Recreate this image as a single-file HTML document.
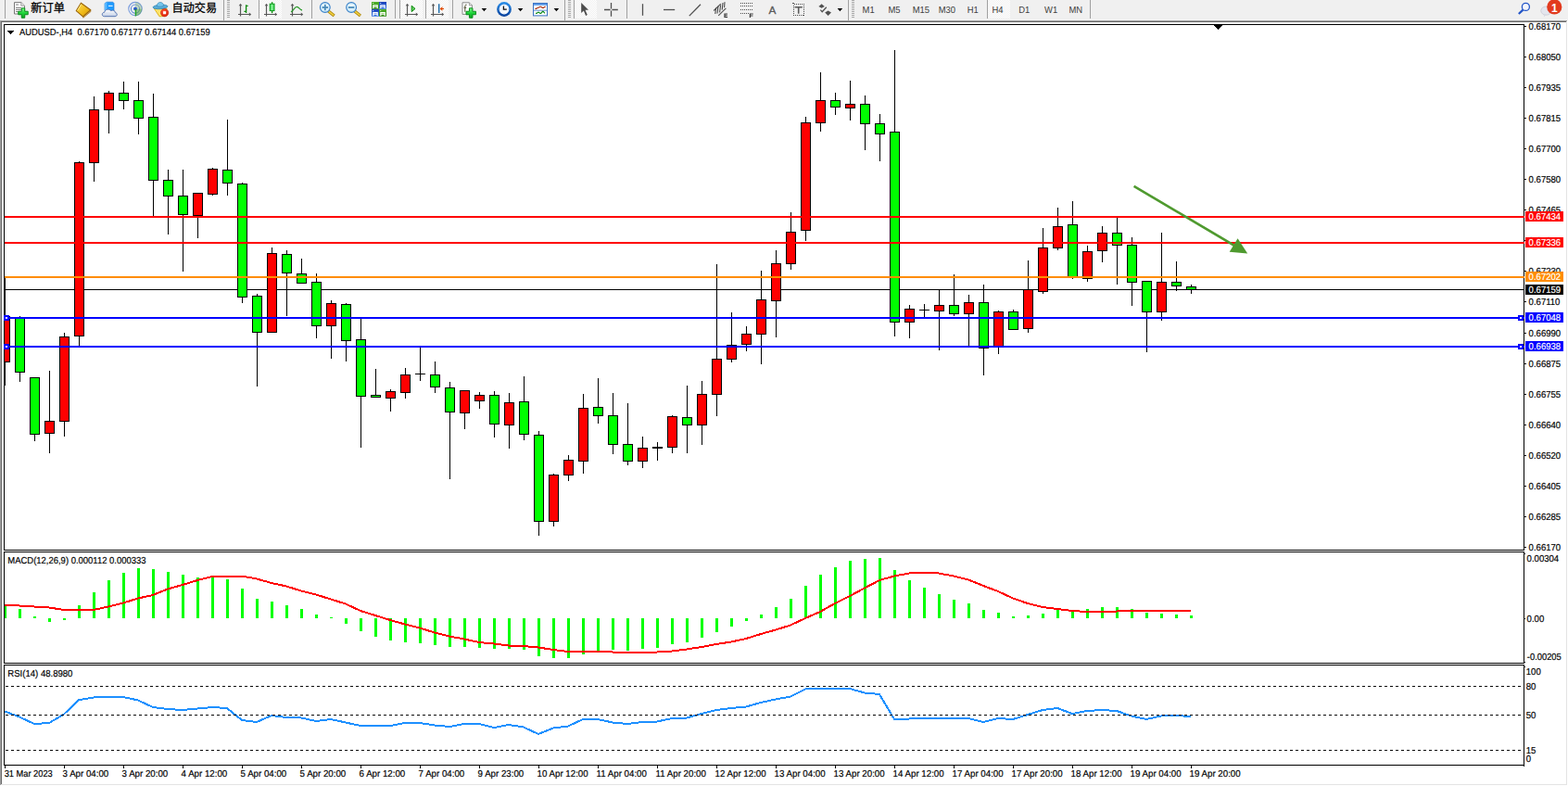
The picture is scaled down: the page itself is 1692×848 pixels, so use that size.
<!DOCTYPE html>
<html><head><meta charset="utf-8"><title>AUDUSD H4</title>
<style>
html,body{margin:0;padding:0}
body{width:1692px;height:848px;overflow:hidden;background:#fff;position:relative;font-family:"Liberation Sans",sans-serif}
svg{position:absolute;left:0;top:0}
</style></head><body>
<div style="position:absolute;left:0;top:0;width:1692px;height:22px;background:#f0f0f0"></div>
<div style="position:absolute;left:0;top:21px;width:1692px;height:1px;background:#f3f3f3"></div>
<div style="position:absolute;left:0;top:22px;width:1691px;height:1px;background:#a0a0a0"></div>
<div style="position:absolute;left:1px;top:23px;width:1689px;height:1px;background:#696969"></div>
<div style="position:absolute;left:0;top:22px;width:1px;height:825px;background:#a0a0a0"></div>
<div style="position:absolute;left:1px;top:23px;width:1px;height:823px;background:#696969"></div>
<div style="position:absolute;left:1690px;top:23px;width:1px;height:824px;background:#e3e3e3"></div>
<div style="position:absolute;left:1px;top:846px;width:1690px;height:1px;background:#e3e3e3"></div>
<svg width="1692" height="848" viewBox="0 0 1692 848" shape-rendering="crispEdges">
<clipPath id="cp"><rect x="5" y="27" width="1639" height="566"/></clipPath><rect x="5" y="312" width="1639" height="1" fill="#000"/><g id="candles" clip-path="url(#cp)"><rect x="5" y="298" width="1" height="118" fill="#000"/>
<rect x="0" y="341" width="11" height="50" fill="#000"/>
<rect x="1" y="342" width="9" height="48" fill="#ff0000"/>
<rect x="21" y="341" width="1" height="71" fill="#000"/>
<rect x="16" y="342" width="11" height="60" fill="#000"/>
<rect x="17" y="343" width="9" height="58" fill="#00ff00"/>
<rect x="37" y="407" width="1" height="69" fill="#000"/>
<rect x="32" y="407" width="11" height="62" fill="#000"/>
<rect x="33" y="408" width="9" height="60" fill="#00ff00"/>
<rect x="53" y="400" width="1" height="89" fill="#000"/>
<rect x="48" y="454" width="11" height="14" fill="#000"/>
<rect x="49" y="455" width="9" height="12" fill="#ff0000"/>
<rect x="69" y="359" width="1" height="112" fill="#000"/>
<rect x="64" y="363" width="11" height="92" fill="#000"/>
<rect x="65" y="364" width="9" height="90" fill="#ff0000"/>
<rect x="85" y="174" width="1" height="201" fill="#000"/>
<rect x="80" y="175" width="11" height="188" fill="#000"/>
<rect x="81" y="176" width="9" height="186" fill="#ff0000"/>
<rect x="101" y="104" width="1" height="92" fill="#000"/>
<rect x="96" y="118" width="11" height="58" fill="#000"/>
<rect x="97" y="119" width="9" height="56" fill="#ff0000"/>
<rect x="117" y="98" width="1" height="46" fill="#000"/>
<rect x="112" y="100" width="11" height="19" fill="#000"/>
<rect x="113" y="101" width="9" height="17" fill="#ff0000"/>
<rect x="133" y="88" width="1" height="30" fill="#000"/>
<rect x="128" y="100" width="11" height="9" fill="#000"/>
<rect x="129" y="101" width="9" height="7" fill="#00ff00"/>
<rect x="149" y="88" width="1" height="57" fill="#000"/>
<rect x="144" y="108" width="11" height="20" fill="#000"/>
<rect x="145" y="109" width="9" height="18" fill="#00ff00"/>
<rect x="165" y="101" width="1" height="133" fill="#000"/>
<rect x="160" y="126" width="11" height="69" fill="#000"/>
<rect x="161" y="127" width="9" height="67" fill="#00ff00"/>
<rect x="181" y="183" width="1" height="70" fill="#000"/>
<rect x="176" y="194" width="11" height="18" fill="#000"/>
<rect x="177" y="195" width="9" height="16" fill="#00ff00"/>
<rect x="197" y="183" width="1" height="110" fill="#000"/>
<rect x="192" y="211" width="11" height="21" fill="#000"/>
<rect x="193" y="212" width="9" height="19" fill="#00ff00"/>
<rect x="213" y="208" width="1" height="49" fill="#000"/>
<rect x="208" y="208" width="11" height="25" fill="#000"/>
<rect x="209" y="209" width="9" height="23" fill="#ff0000"/>
<rect x="229" y="181" width="1" height="30" fill="#000"/>
<rect x="224" y="182" width="11" height="28" fill="#000"/>
<rect x="225" y="183" width="9" height="26" fill="#ff0000"/>
<rect x="245" y="129" width="1" height="82" fill="#000"/>
<rect x="240" y="183" width="11" height="15" fill="#000"/>
<rect x="241" y="184" width="9" height="13" fill="#00ff00"/>
<rect x="261" y="197" width="1" height="130" fill="#000"/>
<rect x="256" y="198" width="11" height="123" fill="#000"/>
<rect x="257" y="199" width="9" height="121" fill="#00ff00"/>
<rect x="277" y="317" width="1" height="100" fill="#000"/>
<rect x="272" y="319" width="11" height="40" fill="#000"/>
<rect x="273" y="320" width="9" height="38" fill="#00ff00"/>
<rect x="293" y="267" width="1" height="92" fill="#000"/>
<rect x="288" y="273" width="11" height="86" fill="#000"/>
<rect x="289" y="274" width="9" height="84" fill="#ff0000"/>
<rect x="309" y="270" width="1" height="71" fill="#000"/>
<rect x="304" y="274" width="11" height="21" fill="#000"/>
<rect x="305" y="275" width="9" height="19" fill="#00ff00"/>
<rect x="325" y="279" width="1" height="27" fill="#000"/>
<rect x="320" y="295" width="11" height="11" fill="#000"/>
<rect x="321" y="296" width="9" height="9" fill="#00ff00"/>
<rect x="341" y="295" width="1" height="70" fill="#000"/>
<rect x="336" y="304" width="11" height="48" fill="#000"/>
<rect x="337" y="305" width="9" height="46" fill="#00ff00"/>
<rect x="357" y="324" width="1" height="63" fill="#000"/>
<rect x="352" y="327" width="11" height="25" fill="#000"/>
<rect x="353" y="328" width="9" height="23" fill="#ff0000"/>
<rect x="373" y="327" width="1" height="63" fill="#000"/>
<rect x="368" y="328" width="11" height="40" fill="#000"/>
<rect x="369" y="329" width="9" height="38" fill="#00ff00"/>
<rect x="389" y="344" width="1" height="139" fill="#000"/>
<rect x="384" y="366" width="11" height="62" fill="#000"/>
<rect x="385" y="367" width="9" height="60" fill="#00ff00"/>
<rect x="405" y="398" width="1" height="31" fill="#000"/>
<rect x="400" y="426" width="11" height="3" fill="#000"/>
<rect x="401" y="427" width="9" height="1" fill="#00ff00"/>
<rect x="421" y="420" width="1" height="24" fill="#000"/>
<rect x="416" y="422" width="11" height="8" fill="#000"/>
<rect x="417" y="423" width="9" height="6" fill="#ff0000"/>
<rect x="437" y="397" width="1" height="33" fill="#000"/>
<rect x="432" y="404" width="11" height="20" fill="#000"/>
<rect x="433" y="405" width="9" height="18" fill="#ff0000"/>
<rect x="453" y="375" width="1" height="36" fill="#000"/>
<rect x="448" y="403" width="11" height="1" fill="#000"/>
<rect x="469" y="390" width="1" height="34" fill="#000"/>
<rect x="464" y="404" width="11" height="14" fill="#000"/>
<rect x="465" y="405" width="9" height="12" fill="#00ff00"/>
<rect x="485" y="412" width="1" height="105" fill="#000"/>
<rect x="480" y="418" width="11" height="27" fill="#000"/>
<rect x="481" y="419" width="9" height="25" fill="#00ff00"/>
<rect x="501" y="421" width="1" height="42" fill="#000"/>
<rect x="496" y="421" width="11" height="25" fill="#000"/>
<rect x="497" y="422" width="9" height="23" fill="#ff0000"/>
<rect x="517" y="423" width="1" height="18" fill="#000"/>
<rect x="512" y="426" width="11" height="7" fill="#000"/>
<rect x="513" y="427" width="9" height="5" fill="#ff0000"/>
<rect x="533" y="422" width="1" height="50" fill="#000"/>
<rect x="528" y="426" width="11" height="32" fill="#000"/>
<rect x="529" y="427" width="9" height="30" fill="#00ff00"/>
<rect x="549" y="424" width="1" height="60" fill="#000"/>
<rect x="544" y="434" width="11" height="25" fill="#000"/>
<rect x="545" y="435" width="9" height="23" fill="#ff0000"/>
<rect x="565" y="406" width="1" height="69" fill="#000"/>
<rect x="560" y="433" width="11" height="36" fill="#000"/>
<rect x="561" y="434" width="9" height="34" fill="#00ff00"/>
<rect x="581" y="465" width="1" height="113" fill="#000"/>
<rect x="576" y="469" width="11" height="94" fill="#000"/>
<rect x="577" y="470" width="9" height="92" fill="#00ff00"/>
<rect x="597" y="511" width="1" height="57" fill="#000"/>
<rect x="592" y="512" width="11" height="51" fill="#000"/>
<rect x="593" y="513" width="9" height="49" fill="#ff0000"/>
<rect x="613" y="491" width="1" height="28" fill="#000"/>
<rect x="608" y="496" width="11" height="17" fill="#000"/>
<rect x="609" y="497" width="9" height="15" fill="#ff0000"/>
<rect x="629" y="425" width="1" height="86" fill="#000"/>
<rect x="624" y="440" width="11" height="58" fill="#000"/>
<rect x="625" y="441" width="9" height="56" fill="#ff0000"/>
<rect x="645" y="408" width="1" height="49" fill="#000"/>
<rect x="640" y="439" width="11" height="10" fill="#000"/>
<rect x="641" y="440" width="9" height="8" fill="#00ff00"/>
<rect x="661" y="424" width="1" height="66" fill="#000"/>
<rect x="656" y="448" width="11" height="32" fill="#000"/>
<rect x="657" y="449" width="9" height="30" fill="#00ff00"/>
<rect x="677" y="435" width="1" height="67" fill="#000"/>
<rect x="672" y="479" width="11" height="19" fill="#000"/>
<rect x="673" y="480" width="9" height="17" fill="#00ff00"/>
<rect x="693" y="471" width="1" height="34" fill="#000"/>
<rect x="688" y="483" width="11" height="15" fill="#000"/>
<rect x="689" y="484" width="9" height="13" fill="#ff0000"/>
<rect x="709" y="477" width="1" height="20" fill="#000"/>
<rect x="704" y="482" width="11" height="2" fill="#000"/>
<rect x="725" y="448" width="1" height="41" fill="#000"/>
<rect x="720" y="449" width="11" height="34" fill="#000"/>
<rect x="721" y="450" width="9" height="32" fill="#ff0000"/>
<rect x="741" y="416" width="1" height="73" fill="#000"/>
<rect x="736" y="450" width="11" height="9" fill="#000"/>
<rect x="737" y="451" width="9" height="7" fill="#00ff00"/>
<rect x="757" y="411" width="1" height="69" fill="#000"/>
<rect x="752" y="425" width="11" height="34" fill="#000"/>
<rect x="753" y="426" width="9" height="32" fill="#ff0000"/>
<rect x="773" y="285" width="1" height="164" fill="#000"/>
<rect x="768" y="387" width="11" height="39" fill="#000"/>
<rect x="769" y="388" width="9" height="37" fill="#ff0000"/>
<rect x="789" y="337" width="1" height="54" fill="#000"/>
<rect x="784" y="372" width="11" height="16" fill="#000"/>
<rect x="785" y="373" width="9" height="14" fill="#ff0000"/>
<rect x="805" y="352" width="1" height="27" fill="#000"/>
<rect x="800" y="360" width="11" height="12" fill="#000"/>
<rect x="801" y="361" width="9" height="10" fill="#ff0000"/>
<rect x="821" y="292" width="1" height="101" fill="#000"/>
<rect x="816" y="323" width="11" height="38" fill="#000"/>
<rect x="817" y="324" width="9" height="36" fill="#ff0000"/>
<rect x="837" y="270" width="1" height="94" fill="#000"/>
<rect x="832" y="284" width="11" height="41" fill="#000"/>
<rect x="833" y="285" width="9" height="39" fill="#ff0000"/>
<rect x="853" y="229" width="1" height="62" fill="#000"/>
<rect x="848" y="250" width="11" height="35" fill="#000"/>
<rect x="849" y="251" width="9" height="33" fill="#ff0000"/>
<rect x="869" y="126" width="1" height="134" fill="#000"/>
<rect x="864" y="132" width="11" height="117" fill="#000"/>
<rect x="865" y="133" width="9" height="115" fill="#ff0000"/>
<rect x="885" y="78" width="1" height="64" fill="#000"/>
<rect x="880" y="108" width="11" height="25" fill="#000"/>
<rect x="881" y="109" width="9" height="23" fill="#ff0000"/>
<rect x="901" y="100" width="1" height="24" fill="#000"/>
<rect x="896" y="108" width="11" height="8" fill="#000"/>
<rect x="897" y="109" width="9" height="6" fill="#00ff00"/>
<rect x="917" y="87" width="1" height="43" fill="#000"/>
<rect x="912" y="112" width="11" height="5" fill="#000"/>
<rect x="913" y="113" width="9" height="3" fill="#ff0000"/>
<rect x="933" y="103" width="1" height="59" fill="#000"/>
<rect x="928" y="112" width="11" height="22" fill="#000"/>
<rect x="929" y="113" width="9" height="20" fill="#00ff00"/>
<rect x="949" y="123" width="1" height="51" fill="#000"/>
<rect x="944" y="133" width="11" height="12" fill="#000"/>
<rect x="945" y="134" width="9" height="10" fill="#00ff00"/>
<rect x="965" y="54" width="1" height="309" fill="#000"/>
<rect x="960" y="142" width="11" height="206" fill="#000"/>
<rect x="961" y="143" width="9" height="204" fill="#00ff00"/>
<rect x="981" y="329" width="1" height="36" fill="#000"/>
<rect x="976" y="333" width="11" height="15" fill="#000"/>
<rect x="977" y="334" width="9" height="13" fill="#ff0000"/>
<rect x="997" y="328" width="1" height="14" fill="#000"/>
<rect x="992" y="334" width="11" height="1" fill="#000"/>
<rect x="1013" y="312" width="1" height="66" fill="#000"/>
<rect x="1008" y="329" width="11" height="7" fill="#000"/>
<rect x="1009" y="330" width="9" height="5" fill="#ff0000"/>
<rect x="1029" y="296" width="1" height="45" fill="#000"/>
<rect x="1024" y="329" width="11" height="10" fill="#000"/>
<rect x="1025" y="330" width="9" height="8" fill="#00ff00"/>
<rect x="1045" y="318" width="1" height="57" fill="#000"/>
<rect x="1040" y="326" width="11" height="13" fill="#000"/>
<rect x="1041" y="327" width="9" height="11" fill="#ff0000"/>
<rect x="1061" y="307" width="1" height="98" fill="#000"/>
<rect x="1056" y="326" width="11" height="50" fill="#000"/>
<rect x="1057" y="327" width="9" height="48" fill="#00ff00"/>
<rect x="1077" y="335" width="1" height="47" fill="#000"/>
<rect x="1072" y="336" width="11" height="39" fill="#000"/>
<rect x="1073" y="337" width="9" height="37" fill="#ff0000"/>
<rect x="1093" y="334" width="1" height="22" fill="#000"/>
<rect x="1088" y="336" width="11" height="20" fill="#000"/>
<rect x="1089" y="337" width="9" height="18" fill="#00ff00"/>
<rect x="1109" y="281" width="1" height="78" fill="#000"/>
<rect x="1104" y="312" width="11" height="43" fill="#000"/>
<rect x="1105" y="313" width="9" height="41" fill="#ff0000"/>
<rect x="1125" y="246" width="1" height="71" fill="#000"/>
<rect x="1120" y="267" width="11" height="48" fill="#000"/>
<rect x="1121" y="268" width="9" height="46" fill="#ff0000"/>
<rect x="1141" y="224" width="1" height="46" fill="#000"/>
<rect x="1136" y="244" width="11" height="24" fill="#000"/>
<rect x="1137" y="245" width="9" height="22" fill="#ff0000"/>
<rect x="1157" y="217" width="1" height="84" fill="#000"/>
<rect x="1152" y="242" width="11" height="57" fill="#000"/>
<rect x="1153" y="243" width="9" height="55" fill="#00ff00"/>
<rect x="1173" y="265" width="1" height="39" fill="#000"/>
<rect x="1168" y="271" width="11" height="30" fill="#000"/>
<rect x="1169" y="272" width="9" height="28" fill="#ff0000"/>
<rect x="1189" y="244" width="1" height="39" fill="#000"/>
<rect x="1184" y="251" width="11" height="20" fill="#000"/>
<rect x="1185" y="252" width="9" height="18" fill="#ff0000"/>
<rect x="1205" y="235" width="1" height="72" fill="#000"/>
<rect x="1200" y="251" width="11" height="14" fill="#000"/>
<rect x="1201" y="252" width="9" height="12" fill="#00ff00"/>
<rect x="1221" y="256" width="1" height="74" fill="#000"/>
<rect x="1216" y="264" width="11" height="41" fill="#000"/>
<rect x="1217" y="265" width="9" height="39" fill="#00ff00"/>
<rect x="1237" y="303" width="1" height="77" fill="#000"/>
<rect x="1232" y="303" width="11" height="34" fill="#000"/>
<rect x="1233" y="304" width="9" height="32" fill="#00ff00"/>
<rect x="1253" y="251" width="1" height="95" fill="#000"/>
<rect x="1248" y="304" width="11" height="33" fill="#000"/>
<rect x="1249" y="305" width="9" height="31" fill="#ff0000"/>
<rect x="1269" y="282" width="1" height="32" fill="#000"/>
<rect x="1264" y="304" width="11" height="5" fill="#000"/>
<rect x="1265" y="305" width="9" height="3" fill="#00ff00"/>
<rect x="1285" y="307" width="1" height="10" fill="#000"/>
<rect x="1280" y="309" width="11" height="4" fill="#000"/>
<rect x="1281" y="310" width="9" height="2" fill="#00ff00"/></g>
<g id="macd"><rect x="4" y="653" width="3" height="14" fill="#00ff00"/>
<rect x="20" y="657" width="3" height="10" fill="#00ff00"/>
<rect x="36" y="665" width="3" height="2" fill="#00ff00"/>
<rect x="52" y="667" width="3" height="4" fill="#00ff00"/>
<rect x="68" y="667" width="3" height="2" fill="#00ff00"/>
<rect x="84" y="653" width="3" height="14" fill="#00ff00"/>
<rect x="100" y="639" width="3" height="28" fill="#00ff00"/>
<rect x="116" y="626" width="3" height="41" fill="#00ff00"/>
<rect x="132" y="618" width="3" height="49" fill="#00ff00"/>
<rect x="148" y="613" width="3" height="54" fill="#00ff00"/>
<rect x="164" y="614" width="3" height="53" fill="#00ff00"/>
<rect x="180" y="617" width="3" height="50" fill="#00ff00"/>
<rect x="196" y="620" width="3" height="47" fill="#00ff00"/>
<rect x="212" y="623" width="3" height="44" fill="#00ff00"/>
<rect x="228" y="623" width="3" height="44" fill="#00ff00"/>
<rect x="244" y="625" width="3" height="42" fill="#00ff00"/>
<rect x="260" y="635" width="3" height="32" fill="#00ff00"/>
<rect x="276" y="646" width="3" height="21" fill="#00ff00"/>
<rect x="292" y="649" width="3" height="18" fill="#00ff00"/>
<rect x="308" y="653" width="3" height="14" fill="#00ff00"/>
<rect x="324" y="657" width="3" height="10" fill="#00ff00"/>
<rect x="340" y="663" width="3" height="4" fill="#00ff00"/>
<rect x="356" y="666" width="3" height="1" fill="#00ff00"/>
<rect x="372" y="667" width="3" height="6" fill="#00ff00"/>
<rect x="388" y="667" width="3" height="14" fill="#00ff00"/>
<rect x="404" y="667" width="3" height="20" fill="#00ff00"/>
<rect x="420" y="667" width="3" height="24" fill="#00ff00"/>
<rect x="436" y="667" width="3" height="26" fill="#00ff00"/>
<rect x="452" y="667" width="3" height="27" fill="#00ff00"/>
<rect x="468" y="667" width="3" height="29" fill="#00ff00"/>
<rect x="484" y="667" width="3" height="31" fill="#00ff00"/>
<rect x="500" y="667" width="3" height="31" fill="#00ff00"/>
<rect x="516" y="667" width="3" height="32" fill="#00ff00"/>
<rect x="532" y="667" width="3" height="33" fill="#00ff00"/>
<rect x="548" y="667" width="3" height="33" fill="#00ff00"/>
<rect x="564" y="667" width="3" height="34" fill="#00ff00"/>
<rect x="580" y="667" width="3" height="41" fill="#00ff00"/>
<rect x="596" y="667" width="3" height="43" fill="#00ff00"/>
<rect x="612" y="667" width="3" height="43" fill="#00ff00"/>
<rect x="628" y="667" width="3" height="39" fill="#00ff00"/>
<rect x="644" y="667" width="3" height="36" fill="#00ff00"/>
<rect x="660" y="667" width="3" height="34" fill="#00ff00"/>
<rect x="676" y="667" width="3" height="35" fill="#00ff00"/>
<rect x="692" y="667" width="3" height="33" fill="#00ff00"/>
<rect x="708" y="667" width="3" height="32" fill="#00ff00"/>
<rect x="724" y="667" width="3" height="28" fill="#00ff00"/>
<rect x="740" y="667" width="3" height="26" fill="#00ff00"/>
<rect x="756" y="667" width="3" height="21" fill="#00ff00"/>
<rect x="772" y="667" width="3" height="15" fill="#00ff00"/>
<rect x="788" y="667" width="3" height="9" fill="#00ff00"/>
<rect x="804" y="667" width="3" height="3" fill="#00ff00"/>
<rect x="820" y="663" width="3" height="4" fill="#00ff00"/>
<rect x="836" y="655" width="3" height="12" fill="#00ff00"/>
<rect x="852" y="646" width="3" height="21" fill="#00ff00"/>
<rect x="868" y="632" width="3" height="35" fill="#00ff00"/>
<rect x="884" y="620" width="3" height="47" fill="#00ff00"/>
<rect x="900" y="612" width="3" height="55" fill="#00ff00"/>
<rect x="916" y="605" width="3" height="62" fill="#00ff00"/>
<rect x="932" y="603" width="3" height="64" fill="#00ff00"/>
<rect x="948" y="602" width="3" height="65" fill="#00ff00"/>
<rect x="964" y="615" width="3" height="52" fill="#00ff00"/>
<rect x="980" y="626" width="3" height="41" fill="#00ff00"/>
<rect x="996" y="634" width="3" height="33" fill="#00ff00"/>
<rect x="1012" y="641" width="3" height="26" fill="#00ff00"/>
<rect x="1028" y="647" width="3" height="20" fill="#00ff00"/>
<rect x="1044" y="651" width="3" height="16" fill="#00ff00"/>
<rect x="1060" y="658" width="3" height="9" fill="#00ff00"/>
<rect x="1076" y="661" width="3" height="6" fill="#00ff00"/>
<rect x="1092" y="665" width="3" height="2" fill="#00ff00"/>
<rect x="1108" y="664" width="3" height="3" fill="#00ff00"/>
<rect x="1124" y="662" width="3" height="5" fill="#00ff00"/>
<rect x="1140" y="658" width="3" height="9" fill="#00ff00"/>
<rect x="1156" y="658" width="3" height="9" fill="#00ff00"/>
<rect x="1172" y="657" width="3" height="10" fill="#00ff00"/>
<rect x="1188" y="655" width="3" height="12" fill="#00ff00"/>
<rect x="1204" y="655" width="3" height="12" fill="#00ff00"/>
<rect x="1220" y="657" width="3" height="10" fill="#00ff00"/>
<rect x="1236" y="661" width="3" height="6" fill="#00ff00"/>
<rect x="1252" y="662" width="3" height="5" fill="#00ff00"/>
<rect x="1268" y="663" width="3" height="4" fill="#00ff00"/>
<rect x="1284" y="664" width="3" height="3" fill="#00ff00"/></g>
<polyline points="5,653.25 21,653.5 37,654.5 53,655.5 69,658.0 85,658.5 101,658.0 117,654.5 133,650.5 149,645.5 165,642.0 181,635.5 197,631.0 213,626.0 229,622.0 245,621.5 261,621.5 277,624.5 293,629.0 309,632.5 325,637.5 341,641.5 357,646.5 373,651.5 389,659.0 405,664.0 421,669.0 437,673.5 453,677.5 469,682.5 485,686.5 501,689.5 517,693.0 533,694.5 549,696.5 565,697.0 581,698.5 597,701.0 613,703.0 629,703.0 645,703.0 661,703.5 677,704.0 693,704.0 709,703.5 725,702.5 741,700.5 757,698.0 773,695.0 789,692.5 805,689.0 821,684.0 837,679.5 853,674.5 869,667.0 885,660.0 901,651.0 917,643.0 933,634.5 949,626.0 965,621.5 981,618.5 997,618.25 1013,618.5 1029,621.5 1045,625.5 1061,632.0 1077,638.0 1093,645.5 1109,651.0 1125,655.0 1141,657.0 1157,659.0 1173,660.0 1189,660.0 1205,659.5 1221,659.0 1237,659.0 1253,659.0 1269,659.0 1285,659.0" fill="none" stroke="#ff0000" stroke-width="2"/>
<polyline points="5,767.5 21,773.5 37,781.0 53,780.0 69,770.5 85,755.25 101,752.5 117,752.0 133,752.0 149,755.5 165,763.0 181,765.0 197,766.0 213,764.5 229,763.0 245,764.0 261,777.0 277,779.0 293,772.0 309,774.0 325,774.5 341,778.0 357,776.0 373,779.5 389,783.0 405,783.0 421,783.0 437,780.0 453,780.0 469,782.5 485,784.0 501,781.0 517,781.0 533,785.0 549,782.0 565,784.5 581,792.0 597,785.5 613,783.5 629,776.0 645,776.0 661,779.5 677,781.0 693,779.0 709,778.5 725,775.0 741,774.5 757,770.0 773,766.0 789,764.0 805,762.5 821,758.0 837,754.5 853,751.5 869,743.5 885,743.0 901,743.0 917,743.0 933,747.5 949,749.0 965,776.0 981,775.5 997,775.0 1013,775.0 1029,775.0 1045,775.0 1061,779.0 1077,775.0 1093,776.0 1109,771.0 1125,766.0 1141,764.0 1157,770.0 1173,767.0 1189,766.0 1205,767.0 1221,772.5 1237,776.0 1253,772.5 1269,772.0 1285,773.0" fill="none" stroke="#1e90ff" stroke-width="2"/>
<g stroke="#000" stroke-width="1" stroke-dasharray="3 3"><path d="M6 740.5H1644M6 771.5H1644M6 809.5H1644"/></g>
<g id="frames"><rect x="4" y="26" width="1641" height="1" fill="#000"/>
<rect x="4" y="593" width="1641" height="1" fill="#000"/>
<rect x="4" y="595" width="1641" height="1" fill="#000"/>
<rect x="4" y="715" width="1641" height="1" fill="#000"/>
<rect x="4" y="717" width="1641" height="1" fill="#000"/>
<rect x="4" y="825" width="1641" height="1" fill="#000"/>
<rect x="4" y="26" width="1" height="800" fill="#000"/>
<rect x="1644" y="26" width="1" height="801" fill="#000"/>
<rect x="4" y="594" width="1" height="1" fill="#fff"/>
<rect x="4" y="716" width="1" height="1" fill="#fff"/>
<rect x="1644" y="594" width="1" height="1" fill="#fff"/>
<rect x="1644" y="716" width="1" height="1" fill="#fff"/>
<rect x="1645" y="28" width="2" height="1" fill="#000"/>
<rect x="1645" y="61" width="2" height="1" fill="#000"/>
<rect x="1645" y="94" width="2" height="1" fill="#000"/>
<rect x="1645" y="127" width="2" height="1" fill="#000"/>
<rect x="1645" y="160" width="2" height="1" fill="#000"/>
<rect x="1645" y="193" width="2" height="1" fill="#000"/>
<rect x="1645" y="226" width="2" height="1" fill="#000"/>
<rect x="1645" y="259" width="2" height="1" fill="#000"/>
<rect x="1645" y="292" width="2" height="1" fill="#000"/>
<rect x="1645" y="325" width="2" height="1" fill="#000"/>
<rect x="1645" y="359" width="2" height="1" fill="#000"/>
<rect x="1645" y="392" width="2" height="1" fill="#000"/>
<rect x="1645" y="425" width="2" height="1" fill="#000"/>
<rect x="1645" y="458" width="2" height="1" fill="#000"/>
<rect x="1645" y="491" width="2" height="1" fill="#000"/>
<rect x="1645" y="524" width="2" height="1" fill="#000"/>
<rect x="1645" y="557" width="2" height="1" fill="#000"/>
<rect x="1645" y="590" width="2" height="1" fill="#000"/>
<rect x="1645" y="597" width="1" height="1" fill="#000"/>
<rect x="1645" y="667" width="1" height="1" fill="#000"/>
<rect x="1645" y="714" width="1" height="1" fill="#000"/>
<rect x="1645" y="719" width="1" height="1" fill="#000"/>
<rect x="5" y="826" width="1" height="3" fill="#000"/>
<rect x="69" y="826" width="1" height="3" fill="#000"/>
<rect x="133" y="826" width="1" height="3" fill="#000"/>
<rect x="197" y="826" width="1" height="3" fill="#000"/>
<rect x="261" y="826" width="1" height="3" fill="#000"/>
<rect x="325" y="826" width="1" height="3" fill="#000"/>
<rect x="389" y="826" width="1" height="3" fill="#000"/>
<rect x="453" y="826" width="1" height="3" fill="#000"/>
<rect x="517" y="826" width="1" height="3" fill="#000"/>
<rect x="581" y="826" width="1" height="3" fill="#000"/>
<rect x="645" y="826" width="1" height="3" fill="#000"/>
<rect x="709" y="826" width="1" height="3" fill="#000"/>
<rect x="773" y="826" width="1" height="3" fill="#000"/>
<rect x="837" y="826" width="1" height="3" fill="#000"/>
<rect x="901" y="826" width="1" height="3" fill="#000"/>
<rect x="965" y="826" width="1" height="3" fill="#000"/>
<rect x="1029" y="826" width="1" height="3" fill="#000"/>
<rect x="1093" y="826" width="1" height="3" fill="#000"/>
<rect x="1157" y="826" width="1" height="3" fill="#000"/>
<rect x="1221" y="826" width="1" height="3" fill="#000"/>
<rect x="1285" y="826" width="1" height="3" fill="#000"/></g>
<g id="hl"><rect x="5" y="233" width="1640" height="2" fill="#ff0000"/>
<rect x="5" y="261" width="1640" height="2" fill="#ff0000"/>
<rect x="5" y="298" width="1640" height="2" fill="#ff8c00"/>
<rect x="5" y="342" width="1640" height="2" fill="#0000ff"/>
<rect x="5" y="373" width="1640" height="2" fill="#0000ff"/>
<rect x="4" y="340" width="6" height="6" fill="#0000ff"/>
<rect x="6" y="342" width="2" height="2" fill="#fff"/>
<rect x="1638" y="340" width="6" height="6" fill="#0000ff"/>
<rect x="1640" y="342" width="2" height="2" fill="#fff"/>
<rect x="4" y="371" width="6" height="6" fill="#0000ff"/>
<rect x="6" y="373" width="2" height="2" fill="#fff"/>
<rect x="1638" y="371" width="6" height="6" fill="#0000ff"/>
<rect x="1640" y="373" width="2" height="2" fill="#fff"/></g>
<g fill="#000"><rect x="8" y="33" width="7" height="1"/><rect x="9" y="34" width="5" height="1"/><rect x="10" y="35" width="3" height="1"/><rect x="11" y="36" width="1" height="1"/><rect x="1310" y="27" width="9" height="1"/><rect x="1311" y="28" width="7" height="1"/><rect x="1312" y="29" width="5" height="1"/><rect x="1313" y="30" width="3" height="1"/><rect x="1314" y="31" width="1" height="1"/></g>
</svg>
<svg width="1692" height="848" viewBox="0 0 1692 848">
<g stroke="#4f9a2f" stroke-width="2.7" stroke-linecap="butt"><line x1="1223.6" y1="200.9" x2="1334" y2="266.1"/></g>
<path d="M1346.2 273.4 L1326.7 271.7 L1335.6 257.2 Z" fill="#4f9a2f"/>
<g fill="#000" stroke="#000" stroke-width="0.27" font-family="Liberation Sans, Noto Sans CJK SC, sans-serif"><text x="33.3" y="13.4" font-size="12.2">新订单</text><text x="185.6" y="13.4" font-size="12.1">自动交易</text></g>
<defs>
<pattern id="chk" width="2" height="2" patternUnits="userSpaceOnUse"><rect width="2" height="2" fill="#f0f0f0"/><rect width="1" height="1" fill="#fff"/><rect x="1" y="1" width="1" height="1" fill="#fff"/></pattern>
<linearGradient id="gplus" x1="0" y1="0" x2="0" y2="1"><stop offset="0" stop-color="#7dff8a"/><stop offset="0.5" stop-color="#1fd43a"/><stop offset="1" stop-color="#08a31e"/></linearGradient>
<linearGradient id="gold" x1="0" y1="0" x2="1" y2="1"><stop offset="0" stop-color="#ffe25a"/><stop offset="0.6" stop-color="#eeb715"/><stop offset="1" stop-color="#c98d10"/></linearGradient>
<linearGradient id="gcloud" x1="0" y1="0" x2="0" y2="1"><stop offset="0" stop-color="#ffffff"/><stop offset="1" stop-color="#c3cfe6"/></linearGradient>
<radialGradient id="glens" cx="0.5" cy="0.4" r="0.6"><stop offset="0" stop-color="#f4fcff"/><stop offset="1" stop-color="#c4e6f8"/></radialGradient>
<linearGradient id="gclock" x1="0" y1="0" x2="0" y2="1"><stop offset="0" stop-color="#2a90ea"/><stop offset="1" stop-color="#083f9a"/></linearGradient>
<linearGradient id="ggr" x1="0" y1="0" x2="0" y2="1"><stop offset="0" stop-color="#4fb02a"/><stop offset="1" stop-color="#2f8a14"/></linearGradient>
<linearGradient id="gbl" x1="0" y1="0" x2="0" y2="1"><stop offset="0" stop-color="#1a3fb8"/><stop offset="1" stop-color="#3a78e8"/></linearGradient>
<linearGradient id="gcandle" x1="0" y1="0" x2="1" y2="0"><stop offset="0" stop-color="#2fd24a"/><stop offset="0.5" stop-color="#8af59a"/><stop offset="1" stop-color="#2fd24a"/></linearGradient>
<radialGradient id="gred" cx="0.4" cy="0.35" r="0.7"><stop offset="0" stop-color="#ff5a3a"/><stop offset="1" stop-color="#d81e05"/></radialGradient>
</defs>
<g shape-rendering="crispEdges">
<rect x="280" y="0" width="24" height="20" fill="url(#chk)"/>
<rect x="432" y="0" width="24" height="20" fill="url(#chk)"/>
<rect x="460" y="0" width="24" height="20" fill="url(#chk)"/>
<rect x="620" y="0" width="24" height="20" fill="url(#chk)"/>
<rect x="1066" y="0" width="24" height="20" fill="url(#chk)"/>
<rect x="5" y="0" width="1" height="20" fill="#a0a0a0"/>
<rect x="241" y="0" width="1" height="22" fill="#a0a0a0"/>
<rect x="279" y="0" width="1" height="20" fill="#a0a0a0"/>
<rect x="336" y="0" width="1" height="20" fill="#a0a0a0"/>
<rect x="426" y="0" width="1" height="20" fill="#a0a0a0"/>
<rect x="431" y="0" width="1" height="20" fill="#a0a0a0"/>
<rect x="459" y="0" width="1" height="20" fill="#a0a0a0"/>
<rect x="488" y="0" width="1" height="20" fill="#a0a0a0"/>
<rect x="609" y="0" width="1" height="22" fill="#a0a0a0"/>
<rect x="619" y="0" width="1" height="20" fill="#a0a0a0"/>
<rect x="676" y="0" width="1" height="20" fill="#a0a0a0"/>
<rect x="915" y="0" width="1" height="22" fill="#a0a0a0"/>
<rect x="1065" y="0" width="1" height="20" fill="#a0a0a0"/>
<rect x="1176" y="0" width="1" height="20" fill="#a0a0a0"/>
<rect x="245" y="0" width="3" height="1" fill="#a8a8a8"/>
<rect x="245" y="2" width="3" height="1" fill="#a8a8a8"/>
<rect x="245" y="4" width="3" height="1" fill="#a8a8a8"/>
<rect x="245" y="6" width="3" height="1" fill="#a8a8a8"/>
<rect x="245" y="8" width="3" height="1" fill="#a8a8a8"/>
<rect x="245" y="10" width="3" height="1" fill="#a8a8a8"/>
<rect x="245" y="12" width="3" height="1" fill="#a8a8a8"/>
<rect x="245" y="14" width="3" height="1" fill="#a8a8a8"/>
<rect x="245" y="16" width="3" height="1" fill="#a8a8a8"/>
<rect x="245" y="18" width="3" height="1" fill="#a8a8a8"/>
<rect x="613" y="0" width="3" height="1" fill="#a8a8a8"/>
<rect x="613" y="2" width="3" height="1" fill="#a8a8a8"/>
<rect x="613" y="4" width="3" height="1" fill="#a8a8a8"/>
<rect x="613" y="6" width="3" height="1" fill="#a8a8a8"/>
<rect x="613" y="8" width="3" height="1" fill="#a8a8a8"/>
<rect x="613" y="10" width="3" height="1" fill="#a8a8a8"/>
<rect x="613" y="12" width="3" height="1" fill="#a8a8a8"/>
<rect x="613" y="14" width="3" height="1" fill="#a8a8a8"/>
<rect x="613" y="16" width="3" height="1" fill="#a8a8a8"/>
<rect x="613" y="18" width="3" height="1" fill="#a8a8a8"/>
<rect x="919" y="0" width="3" height="1" fill="#a8a8a8"/>
<rect x="919" y="2" width="3" height="1" fill="#a8a8a8"/>
<rect x="919" y="4" width="3" height="1" fill="#a8a8a8"/>
<rect x="919" y="6" width="3" height="1" fill="#a8a8a8"/>
<rect x="919" y="8" width="3" height="1" fill="#a8a8a8"/>
<rect x="919" y="10" width="3" height="1" fill="#a8a8a8"/>
<rect x="919" y="12" width="3" height="1" fill="#a8a8a8"/>
<rect x="919" y="14" width="3" height="1" fill="#a8a8a8"/>
<rect x="919" y="16" width="3" height="1" fill="#a8a8a8"/>
<rect x="919" y="18" width="3" height="1" fill="#a8a8a8"/>
</g>
<path d="M15.5 2.6h7.4l3.6 3.6v8.8h-11z" fill="#fff" stroke="#777" stroke-width="1" stroke-linejoin="round"/>
<path d="M22.8 2.6v3.6h3.6" fill="#e8e8e8" stroke="#8a8a8a" stroke-width="0.8"/>
<path d="M17 5h3M17 8.5h6M17 10.5h6M17 12.5h3" stroke="#808080" stroke-width="1"/>
<path d="M23.25 8.8h3.5v3.45h3.45v3.5h-3.45v3.45h-3.5v-3.45h-3.45v-3.5h3.45z" fill="url(#gplus)" stroke="#0a8a1a" stroke-width="1" stroke-linejoin="round"/>
<path d="M89.6 17.9L97.9 10.9v1.7L89.8 19.2z" fill="#d8b060" stroke="#96600a" stroke-width="0.6"/>
<path d="M87.4 3.2L97.8 10.7L89.5 17.9L82.2 11.7z" fill="url(#gold)" stroke="#9a6408" stroke-width="1.1" stroke-linejoin="round"/>
<path d="M87.6 4.6L83.6 11.4" stroke="#fff6b0" stroke-width="1" opacity="0.75"/>
<path d="M113 3.6l2.4-1.4h6.4l1.2 1.2v8h-10z" fill="#1e9bff" stroke="#1a78d8" stroke-width="0.6"/>
<path d="M113 3.6l2.4-1.4v9.2h-2.4z" fill="#5ab8ff"/>
<path d="M117 6.4h4.6" stroke="#d8f0ff" stroke-width="1.2"/>
<path d="M112.5 17.7C109.5 17.7 109.5 13.4 112.8 13.2C113 10.4 117.2 8.8 119.6 11.6C121.6 10.4 124.6 11.6 124.4 13.6C127 14 126.8 17.7 124 17.7Z" fill="url(#gcloud)" stroke="#4a6aaa" stroke-width="0.9"/>
<g fill="none"><circle cx="146" cy="9.6" r="7.2" stroke="#5a86d8" stroke-width="1.1" opacity="0.8"/><circle cx="146" cy="9.6" r="4.6" stroke="#4a78d0" stroke-width="1.1" opacity="0.85"/></g>
<path d="M146 9.6L153.3 9.6A7.3 7.3 0 0 1 146.4 16.9z" fill="#4aa03a" opacity="0.55"/>
<path d="M146 9.6L146 2.3A7.3 7.3 0 0 1 153.3 9.6z" fill="#8ab88a" opacity="0.45"/>
<circle cx="146" cy="9.4" r="1.9" fill="#2a5ac8"/>
<path d="M146.4 10v7.4" stroke="#22a022" stroke-width="1.4"/>
<path d="M166.2 9L180.2 9.4L176.4 17.6L172 17.8z" fill="#ffe36a" stroke="#d8a800" stroke-width="0.8" stroke-linejoin="round"/>
<ellipse cx="173" cy="7.4" rx="8" ry="2.3" fill="#58acd8" stroke="#2a80b0" stroke-width="0.7" transform="rotate(-4 173 7.4)"/>
<path d="M169.2 6.6c0.2-5.4 7-5.6 7.4-0.4c-2 1.2-5.4 1.4-7.4 0.4z" fill="#74c4ec" stroke="#2a80b0" stroke-width="0.6"/>
<circle cx="177.6" cy="13.7" r="4.2" fill="url(#gred)" stroke="#c01800" stroke-width="0.5"/>
<rect x="176.1" y="12.2" width="3" height="3" fill="#fff"/>
<g stroke="#585858" stroke-width="1.2" fill="#585858"><path d="M259.5 5v12.6M257 15.5h12.4" fill="none"/><path d="M259.5 3.8l1.9 2.4h-3.8z" stroke="none"/><path d="M271.2 15.5l-2.4-1.9v3.8z" stroke="none"/></g>
<path d="M265.6 5.2v8.8M265.6 6.4h2M263.4 12.4h2.2" stroke="#0a8a0a" stroke-width="1.3" fill="none"/>
<g stroke="#585858" stroke-width="1.2" fill="#585858"><path d="M287.5 5v12.6M285 15.5h12.4" fill="none"/><path d="M287.5 3.8l1.9 2.4h-3.8z" stroke="none"/><path d="M299.2 15.5l-2.4-1.9v3.8z" stroke="none"/></g>
<path d="M293.6 2.2v12" stroke="#0a8a0a" stroke-width="1.3"/><rect x="291.2" y="4.2" width="4.8" height="7.4" fill="url(#gcandle)" stroke="#0a9a1a" stroke-width="1"/>
<g stroke="#585858" stroke-width="1.2" fill="#585858"><path d="M315.5 5v12.6M313 15.5h12.4" fill="none"/><path d="M315.5 3.8l1.9 2.4h-3.8z" stroke="none"/><path d="M327.2 15.5l-2.4-1.9v3.8z" stroke="none"/></g>
<path d="M314 12.8C316.5 11.6 318 7.2 320.4 7.4C322.6 7.6 323.6 10.6 326 11" stroke="#2a9a2a" stroke-width="1.3" fill="none"/>
<path d="M354.40000000000003 12l6.2 5" stroke="#a88008" stroke-width="3.4" stroke-linecap="butt"/><path d="M354.6 12.1l5.6 4.5" stroke="#f0d040" stroke-width="1.8" stroke-linecap="butt"/><circle cx="350.8" cy="8" r="5.4" fill="url(#glens)" stroke="#3a80c8" stroke-width="1.1"/><path d="M347.6 8h6.4" stroke="#4a8ab8" stroke-width="1.8"/><path d="M350.8 4.8v6.4" stroke="#4a8ab8" stroke-width="1.8"/>
<path d="M382.70000000000005 12l6.2 5" stroke="#a88008" stroke-width="3.4" stroke-linecap="butt"/><path d="M382.90000000000003 12.1l5.6 4.5" stroke="#f0d040" stroke-width="1.8" stroke-linecap="butt"/><circle cx="379.1" cy="8" r="5.4" fill="url(#glens)" stroke="#3a80c8" stroke-width="1.1"/><path d="M375.90000000000003 8h6.4" stroke="#4a8ab8" stroke-width="1.8"/>
<rect x="401" y="2" width="8" height="7.8" fill="url(#ggr)"/><path d="M402.2 5.2h5.6v3.8h-1.2v-1.2h-3.2v1.2h-1.2z" fill="#fff"/><rect x="403.4" y="6.2" width="3.2" height="0.9" fill="#9ad07a"/><rect x="402.2" y="3" width="1" height="1" fill="#fff" opacity="0.85"/>
<rect x="409" y="2" width="8" height="7.8" fill="url(#gbl)"/><path d="M410.2 5.2h5.6v3.8h-1.2v-1.2h-3.2v1.2h-1.2z" fill="#fff"/><rect x="411.4" y="6.2" width="3.2" height="0.9" fill="#8aa8f0"/><rect x="410.2" y="3" width="1" height="1" fill="#fff" opacity="0.85"/>
<rect x="401" y="9.9" width="8" height="7.8" fill="url(#gbl)"/><path d="M402.2 13.100000000000001h5.6v3.8h-1.2v-1.2h-3.2v1.2h-1.2z" fill="#fff"/><rect x="403.4" y="14.100000000000001" width="3.2" height="0.9" fill="#8aa8f0"/><rect x="402.2" y="10.9" width="1" height="1" fill="#fff" opacity="0.85"/>
<rect x="409" y="9.9" width="8" height="7.8" fill="url(#ggr)"/><path d="M410.2 13.100000000000001h5.6v3.8h-1.2v-1.2h-3.2v1.2h-1.2z" fill="#fff"/><rect x="411.4" y="14.100000000000001" width="3.2" height="0.9" fill="#9ad07a"/><rect x="410.2" y="10.9" width="1" height="1" fill="#fff" opacity="0.85"/>
<g stroke="#585858" stroke-width="1.2" fill="#585858"><path d="M439.5 5v12.6M437 15.5h12.4" fill="none"/><path d="M439.5 3.8l1.9 2.4h-3.8z" stroke="none"/><path d="M451.2 15.5l-2.4-1.9v3.8z" stroke="none"/></g>
<path d="M444.2 6.2v6.4l3.8-3.2z" fill="#5fd05f" stroke="#0a8a0a" stroke-width="1" stroke-linejoin="round"/>
<g stroke="#585858" stroke-width="1.2" fill="#585858"><path d="M467.5 5v12.6M465 15.5h12.4" fill="none"/><path d="M467.5 3.8l1.9 2.4h-3.8z" stroke="none"/><path d="M479.2 15.5l-2.4-1.9v3.8z" stroke="none"/></g>
<path d="M473.7 4.2v9.8" stroke="#1a6aa8" stroke-width="1.4"/>
<path d="M479 9.5h-3.4" stroke="#e04a00" stroke-width="1.2"/><path d="M474.6 9.5l3-2.4l-0.6 2.4l0.6 2.4z" fill="#e04a00"/>
<path d="M499 2.8h7.4l3 3v9.6h-10.4z" fill="#fff" stroke="#8a8a8a" stroke-width="1" stroke-linejoin="round"/>
<path d="M506.4 2.8v3h3" fill="#e8e8e8" stroke="#8a8a8a" stroke-width="0.8"/>
<path d="M503.6 5.2c-1.6-0.4-1.8 0.8-1.8 2v5.6M500.6 8.2h2.6" stroke="#4a4a2a" stroke-width="1" fill="none"/>
<path d="M506.45 8.8h3.5v3.45h3.45v3.5h-3.45v3.45h-3.5v-3.45h-3.45v-3.5h3.45z" fill="url(#gplus)" stroke="#0a8a1a" stroke-width="1" stroke-linejoin="round"/>
<path d="M519.6 9h5.6l-2.8 3.2z" fill="#000"/>
<path d="M558.8 9h5.6l-2.8 3.2z" fill="#000"/>
<path d="M597.6 9h5.6l-2.8 3.2z" fill="#000"/>
<path d="M903.6 9h5.6l-2.8 3.2z" fill="#000"/>
<circle cx="544" cy="10" r="7.9" fill="url(#gclock)"/><circle cx="544" cy="10" r="5.4" fill="#f4f8fd"/>
<path d="M543.4 6.4v3.8h3.4" stroke="#111" stroke-width="1.3" fill="none"/>
<g fill="#8aa0c0"><circle cx="544" cy="5.2" r="0.4"/><circle cx="544" cy="14.8" r="0.4"/><circle cx="539.2" cy="10" r="0.4"/><circle cx="548.8" cy="10" r="0.4"/></g>
<rect x="575.5" y="3.5" width="15" height="13.4" fill="#fff" stroke="#3a72c4" stroke-width="1"/><rect x="576" y="4" width="14" height="1.8" fill="#5a9ae8"/>
<path d="M576 11.2h14" stroke="#3a72c4" stroke-width="0.8"/>
<path d="M577.4 9.4h1.4l1.4-1.2h1.2l1.2-1h1.2l1.4 1.2h1.4l1.4-1.2h0.8" stroke="#a82808" stroke-width="1.1" fill="none"/>
<path d="M578 14.4h1.2l1.2-1h1.2l1.2 1h1l1.6-2l1 0.2l1.6 1.8" stroke="#0a8a1a" stroke-width="1.1" fill="none"/>
<path d="M627.2 3v10.9l2.7-2.4l2.2 5.4l1.7-0.8l-2.3-5.4h3.5z" fill="#4d4d4d"/>
<path d="M659.5 3v6.6M659.5 11.4v6.4M652 10.5h6.6M660.4 10.5h6.4" stroke="#505050" stroke-width="1.3"/>
<path d="M693.5 4.2v12.6" stroke="#505050" stroke-width="1.3"/>
<path d="M716 10.5h12.2" stroke="#505050" stroke-width="1.3"/>
<path d="M743.8 17.1L756 4.7" stroke="#505050" stroke-width="1.3"/>
<path d="M770.2 11.5L777.8 4.2M775.2 16.8L783.4 8.9" stroke="#505050" stroke-width="1.1"/>
<path d="M772.6 8.6l-0.8 6.4M775 6.6l-1 8M777.6 5.4l-1 8M780 3l-0.8 7.6M782 2.2l-0.4 6" stroke="#3a3a3a" stroke-width="1"/>
<path d="M781.4 14.4h3.6v1h-2.4v0.8h2.2v1h-2.2v0.9h2.5v1h-3.7z" fill="#3a3a3a"/>
<g stroke="#505050" stroke-width="1" stroke-dasharray="1 1" shape-rendering="crispEdges"><path d="M799 3.5h13M799 6.5h13M799 10.5h13M799 14.5h9"/></g>
<path d="M808.8 14.4h3.9v1h-2.7v1h2.4v1h-2.4v1.6h-1.2z" fill="#3a3a3a"/>
<text x="829.6" y="14.8" font-family="Liberation Sans, sans-serif" font-size="11.8" fill="#5a5a5a" stroke="#5a5a5a" stroke-width="0.3">A</text>
<g stroke="#505050" stroke-width="1" stroke-dasharray="1 1" fill="none" shape-rendering="crispEdges"><rect x="856.5" y="4.5" width="11" height="12"/></g>
<path d="M857.6 7h8.2v1.5h-3.3v6.2h-1.6v-6.2h-3.3z" fill="#5a5a5a"/><rect x="855" y="3" width="2" height="1" fill="#505050"/>
<path d="M886.6 4.2l3.2 2.8l-3.2 1.8l-3.2-1.8z" fill="#505050"/><path d="M893.6 11.6l3.4 2l-3.4 3.4l-3.4-3.4z" fill="#505050"/>
<path d="M885.4 10.6l1.8 2.2l4.6-5" stroke="#505050" stroke-width="1.3" fill="none"/>
<circle cx="1646.4" cy="7.4" r="4" fill="#f4f6fc" stroke="#2456c8" stroke-width="1.3"/><path d="M1643.4 10.6l-4.6 4.4" stroke="#2456c8" stroke-width="2.2"/>
<ellipse cx="1668.4" cy="11.6" rx="5.6" ry="4.6" fill="#e4e6ee" stroke="#c8c8d0" stroke-width="0.8"/><path d="M1665.6 15.4l0.6 2.8l2.6-2.6z" fill="#d8dae4"/>
<circle cx="1677.3" cy="7.4" r="8.1" fill="#e23a1e"/>
<text x="1677.3" y="12.7" font-family="Liberation Sans, sans-serif" font-size="12" font-weight="bold" fill="#fff" text-anchor="middle">1</text>
<g font-family="Liberation Sans, sans-serif" font-size="10.15" text-rendering="geometricPrecision" xml:space="preserve"><text transform="translate(1649.6,32) scale(0.944,1)" fill="#000" stroke="#000" stroke-width="0.18">0.68170</text><text transform="translate(1649.6,65) scale(0.944,1)" fill="#000" stroke="#000" stroke-width="0.18">0.68050</text><text transform="translate(1649.6,98) scale(0.944,1)" fill="#000" stroke="#000" stroke-width="0.18">0.67935</text><text transform="translate(1649.6,131) scale(0.944,1)" fill="#000" stroke="#000" stroke-width="0.18">0.67815</text><text transform="translate(1649.6,164) scale(0.944,1)" fill="#000" stroke="#000" stroke-width="0.18">0.67700</text><text transform="translate(1649.6,197) scale(0.944,1)" fill="#000" stroke="#000" stroke-width="0.18">0.67580</text><text transform="translate(1649.6,230) scale(0.944,1)" fill="#000" stroke="#000" stroke-width="0.18">0.67465</text><text transform="translate(1649.6,263) scale(0.944,1)" fill="#000" stroke="#000" stroke-width="0.18">0.67345</text><text transform="translate(1649.6,296) scale(0.944,1)" fill="#000" stroke="#000" stroke-width="0.18">0.67230</text><text transform="translate(1649.6,329) scale(0.944,1)" fill="#000" stroke="#000" stroke-width="0.18">0.67110</text><text transform="translate(1649.6,363) scale(0.944,1)" fill="#000" stroke="#000" stroke-width="0.18">0.66990</text><text transform="translate(1649.6,396) scale(0.944,1)" fill="#000" stroke="#000" stroke-width="0.18">0.66875</text><text transform="translate(1649.6,429) scale(0.944,1)" fill="#000" stroke="#000" stroke-width="0.18">0.66755</text><text transform="translate(1649.6,462) scale(0.944,1)" fill="#000" stroke="#000" stroke-width="0.18">0.66640</text><text transform="translate(1649.6,495) scale(0.944,1)" fill="#000" stroke="#000" stroke-width="0.18">0.66520</text><text transform="translate(1649.6,528) scale(0.944,1)" fill="#000" stroke="#000" stroke-width="0.18">0.66405</text><text transform="translate(1649.6,561) scale(0.944,1)" fill="#000" stroke="#000" stroke-width="0.18">0.66285</text><text transform="translate(1649.6,594) scale(0.944,1)" fill="#000" stroke="#000" stroke-width="0.18">0.66170</text><text transform="translate(1647.6,606) scale(0.944,1)" fill="#000" stroke="#000" stroke-width="0.18">0.00304</text><text transform="translate(1647.6,671) scale(0.944,1)" fill="#000" stroke="#000" stroke-width="0.18">0.00</text><text transform="translate(1647.8,712) scale(0.925,1)" fill="#000" stroke="#000" stroke-width="0.18">-0.00205</text><text transform="translate(1646.8,728) scale(0.944,1)" fill="#000" stroke="#000" stroke-width="0.18">100</text><text transform="translate(1646.8,744) scale(0.944,1)" fill="#000" stroke="#000" stroke-width="0.18">80</text><text transform="translate(1646.8,775) scale(0.944,1)" fill="#000" stroke="#000" stroke-width="0.18">50</text><text transform="translate(1646.8,813) scale(0.944,1)" fill="#000" stroke="#000" stroke-width="0.18">15</text><text transform="translate(1646.8,822) scale(0.944,1)" fill="#000" stroke="#000" stroke-width="0.18">0</text><text transform="translate(4.7,838) scale(0.915,1)" fill="#000" stroke="#000" stroke-width="0.18">31 Mar 2023</text><text transform="translate(67.6,838) scale(0.958,1)" fill="#000" stroke="#000" stroke-width="0.18">3 Apr 04:00</text><text transform="translate(131.6,838) scale(0.958,1)" fill="#000" stroke="#000" stroke-width="0.18">3 Apr 20:00</text><text transform="translate(195.6,838) scale(0.958,1)" fill="#000" stroke="#000" stroke-width="0.18">4 Apr 12:00</text><text transform="translate(259.6,838) scale(0.958,1)" fill="#000" stroke="#000" stroke-width="0.18">5 Apr 04:00</text><text transform="translate(323.6,838) scale(0.958,1)" fill="#000" stroke="#000" stroke-width="0.18">5 Apr 20:00</text><text transform="translate(387.6,838) scale(0.958,1)" fill="#000" stroke="#000" stroke-width="0.18">6 Apr 12:00</text><text transform="translate(451.6,838) scale(0.958,1)" fill="#000" stroke="#000" stroke-width="0.18">7 Apr 04:00</text><text transform="translate(515.6,838) scale(0.958,1)" fill="#000" stroke="#000" stroke-width="0.18">9 Apr 23:00</text><text transform="translate(579.6,838) scale(0.958,1)" fill="#000" stroke="#000" stroke-width="0.18">10 Apr 12:00</text><text transform="translate(643.6,838) scale(0.958,1)" fill="#000" stroke="#000" stroke-width="0.18">11 Apr 04:00</text><text transform="translate(707.6,838) scale(0.958,1)" fill="#000" stroke="#000" stroke-width="0.18">11 Apr 20:00</text><text transform="translate(771.6,838) scale(0.958,1)" fill="#000" stroke="#000" stroke-width="0.18">12 Apr 12:00</text><text transform="translate(835.6,838) scale(0.958,1)" fill="#000" stroke="#000" stroke-width="0.18">13 Apr 04:00</text><text transform="translate(899.6,838) scale(0.958,1)" fill="#000" stroke="#000" stroke-width="0.18">13 Apr 20:00</text><text transform="translate(963.6,838) scale(0.958,1)" fill="#000" stroke="#000" stroke-width="0.18">14 Apr 12:00</text><text transform="translate(1027.6,838) scale(0.958,1)" fill="#000" stroke="#000" stroke-width="0.18">17 Apr 04:00</text><text transform="translate(1091.6,838) scale(0.958,1)" fill="#000" stroke="#000" stroke-width="0.18">17 Apr 20:00</text><text transform="translate(1155.6,838) scale(0.958,1)" fill="#000" stroke="#000" stroke-width="0.18">18 Apr 12:00</text><text transform="translate(1219.6,838) scale(0.958,1)" fill="#000" stroke="#000" stroke-width="0.18">19 Apr 04:00</text><text transform="translate(1283.6,838) scale(0.958,1)" fill="#000" stroke="#000" stroke-width="0.18">19 Apr 20:00</text><text transform="translate(21,38) scale(0.925,1)" fill="#000" stroke="#000" stroke-width="0.18">AUDUSD-,H4&#160;&#160;0.67170 0.67177 0.67144 0.67159</text><text transform="translate(8.3,608) scale(0.9345,1)" fill="#000" stroke="#000" stroke-width="0.18">MACD(12,26,9) 0.000112 0.000333</text><text transform="translate(8.3,730) scale(0.944,1)" fill="#000" stroke="#000" stroke-width="0.18">RSI(14) 48.8980</text><text transform="translate(930.55,14) scale(0.93,1)" fill="#404040" stroke="#404040" stroke-width="0">M1</text><text transform="translate(958.45,14) scale(0.93,1)" fill="#404040" stroke="#404040" stroke-width="0">M5</text><text transform="translate(984.7,14) scale(0.93,1)" fill="#404040" stroke="#404040" stroke-width="0">M15</text><text transform="translate(1012.7,14) scale(0.93,1)" fill="#404040" stroke="#404040" stroke-width="0">M30</text><text transform="translate(1043.65,14) scale(0.93,1)" fill="#404040" stroke="#404040" stroke-width="0">H1</text><text transform="translate(1070.5,14) scale(0.93,1)" fill="#404040" stroke="#404040" stroke-width="0">H4</text><text transform="translate(1099.21,14) scale(0.93,1)" fill="#404040" stroke="#404040" stroke-width="0">D1</text><text transform="translate(1127.01,14) scale(0.93,1)" fill="#404040" stroke="#404040" stroke-width="0">W1</text><text transform="translate(1153.45,14) scale(0.93,1)" fill="#404040" stroke="#404040" stroke-width="0">MN</text><rect x="1646" y="228" width="41" height="11" fill="#ff0000" shape-rendering="crispEdges"/><text transform="translate(1649.6,237) scale(0.944,1)" fill="#fff" stroke="#fff" stroke-width="0.18">0.67434</text><rect x="1646" y="256" width="41" height="11" fill="#ff0000" shape-rendering="crispEdges"/><text transform="translate(1649.6,265) scale(0.944,1)" fill="#fff" stroke="#fff" stroke-width="0.18">0.67336</text><rect x="1646" y="293" width="41" height="11" fill="#ff8c00" shape-rendering="crispEdges"/><text transform="translate(1649.6,302) scale(0.944,1)" fill="#fff" stroke="#fff" stroke-width="0.18">0.67202</text><rect x="1646" y="307" width="41" height="11" fill="#000" shape-rendering="crispEdges"/><text transform="translate(1649.6,316) scale(0.944,1)" fill="#fff" stroke="#fff" stroke-width="0.18">0.67159</text><rect x="1646" y="337" width="41" height="11" fill="#0000ff" shape-rendering="crispEdges"/><text transform="translate(1649.6,346) scale(0.944,1)" fill="#fff" stroke="#fff" stroke-width="0.18">0.67048</text><rect x="1646" y="368" width="41" height="11" fill="#0000ff" shape-rendering="crispEdges"/><text transform="translate(1649.6,377) scale(0.944,1)" fill="#fff" stroke="#fff" stroke-width="0.18">0.66938</text></g>
</svg>
</body></html>
